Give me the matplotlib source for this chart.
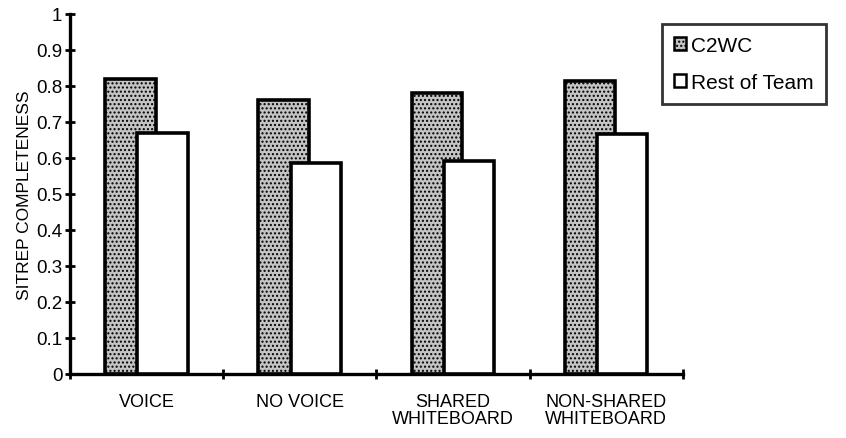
import numpy as np
import matplotlib
matplotlib.use('Agg')
import matplotlib.pyplot as plt
from matplotlib.patches import Patch

##category names and values
categories = ['VOICE', 'NO VOICE', 'SHARED\nWHITEBOARD', 'NON-SHARED\nWHITEBOARD']
c2wc = [0.82, 0.76, 0.78, 0.815]
restOfTeam = [0.67, 0.585, 0.592, 0.667]
seriesNames = ['C2WC', 'Rest of Team']

plt.rcParams['font.family'] = ['Liberation Sans', 'DejaVu Sans']
plt.rcParams['hatch.color'] = '#8c8c8c'

fig = plt.figure(figsize=(8.46, 4.39), dpi=100)
ax = fig.add_axes([0.0827, 0.1458, 0.7243, 0.8202])

x = np.arange(len(categories))
barW = 0.33
off = 0.105
grayCol = '#c4c4c4'

##gray bars first, white bars drawn on top and overlapping
ax.bar(x - off, c2wc, width=barW, color=grayCol, edgecolor='black', linewidth=2.6,
       hatch='....', zorder=2)
ax.bar(x + off, restOfTeam, width=barW, color='white', edgecolor='black', linewidth=2.6,
       zorder=3)

ax.set_xlim(-0.5, len(categories) - 0.5)
ax.set_ylim(0, 1)
ax.set_yticks(np.arange(0, 1.01, 0.1))
ax.set_yticklabels(['0'] + ['%.1f' % v for v in np.arange(0.1, 0.95, 0.1)] + ['1'])

##category boundaries get tick marks, labels go at centres
ax.set_xticks(np.arange(-0.5, len(categories), 1.0))
ax.set_xticklabels([])
ax.set_xticks(x, minor=True)
ax.set_xticklabels(categories, minor=True, fontsize=13, linespacing=1.0)
ax.tick_params(axis='x', which='minor', length=0, pad=14)
ax.tick_params(axis='x', which='major', direction='inout', length=7, width=2)
ax.tick_params(axis='y', direction='inout', length=7, width=2, labelsize=13.5, pad=2)

for s in ['top', 'right']:
    ax.spines[s].set_visible(False)
for s in ['left', 'bottom']:
    ax.spines[s].set_linewidth(2.4)

ax.set_ylabel('SITREP COMPLETENESS', fontsize=12.5, labelpad=3)

handles = [Patch(facecolor=grayCol, edgecolor='black', linewidth=1.8, hatch='....'),
           Patch(facecolor='white', edgecolor='black', linewidth=1.8)]
leg = fig.legend(handles, seriesNames, loc='upper left', bbox_to_anchor=(0.782, 0.944),
                 fontsize=15, frameon=True, fancybox=False, handlelength=0.55,
                 handleheight=0.55, handletextpad=0.25, labelspacing=0.85,
                 borderpad=0.6, borderaxespad=0)
leg.get_frame().set_edgecolor('black')
leg.get_frame().set_linewidth(2)

fig.savefig('out.png', dpi=100)
